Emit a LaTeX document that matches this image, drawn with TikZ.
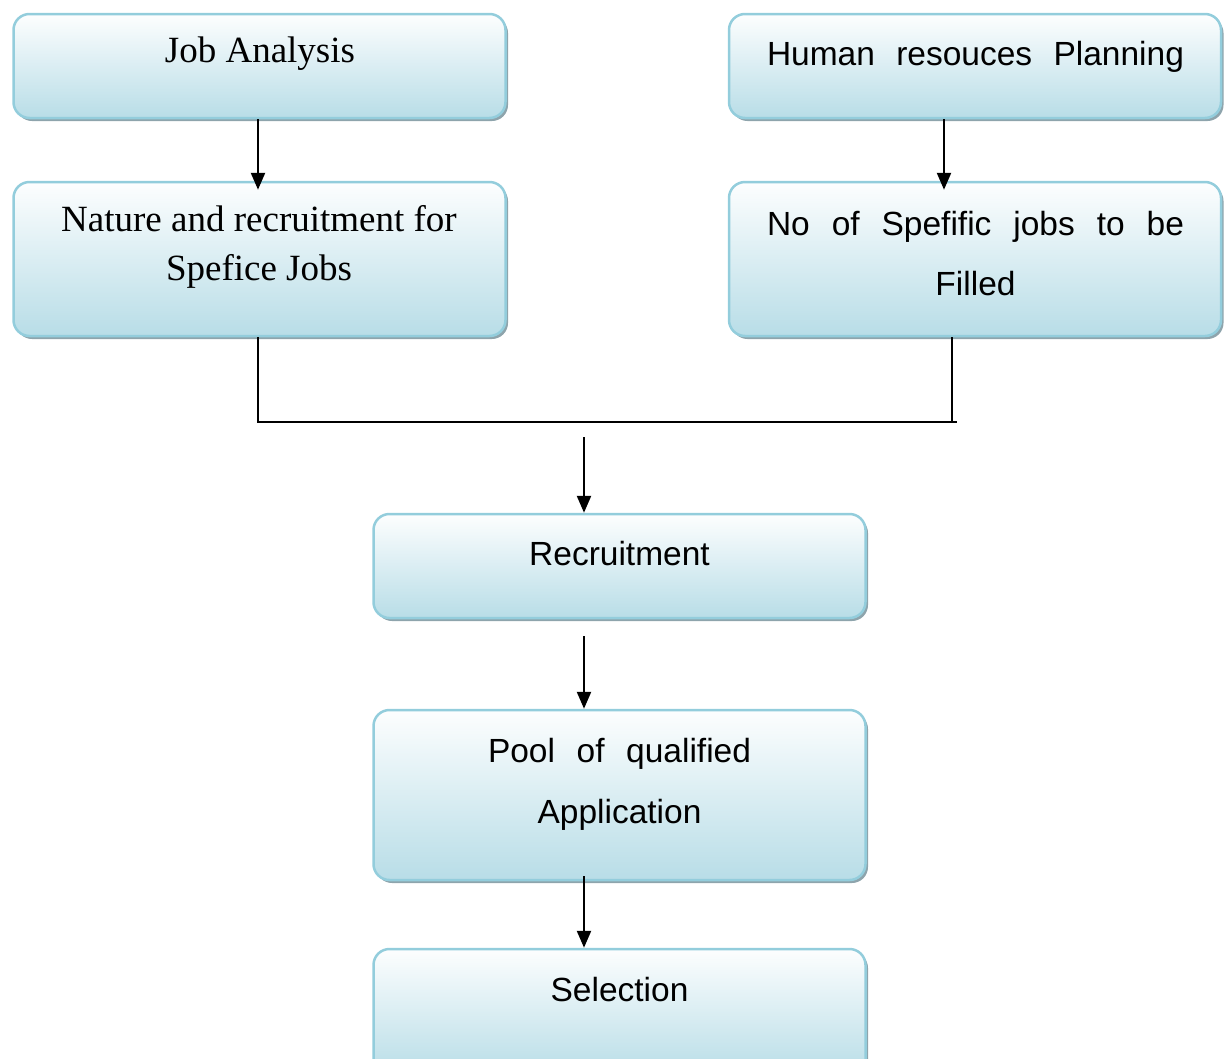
\documentclass[tikz,border=0pt]{standalone}
\usepackage{fontspec}
\usetikzlibrary{arrows.meta,shadows,calc}
\newfontfamily\boxserif{Liberation Serif}
\newfontfamily\boxsans{Liberation Sans}
\definecolor{boxblue}{HTML}{B8DDE7}
\definecolor{boxedge}{HTML}{93CDDC}
\definecolor{shadowgray}{HTML}{8EA4AC}
\tikzset{
  box/.style={draw=boxedge, line width=2.5pt, rounded corners=16pt,
    top color=white!97!boxblue, middle color=boxblue!62!white, bottom color=boxblue,
    drop shadow={shadow xshift=2.5pt, shadow yshift=-3pt, fill=shadowgray, opacity=1},
    minimum width=492pt, inner sep=0pt},
  seriftxt/.style={font=\boxserif\fontsize{37}{44}\selectfont, anchor=base, inner sep=0pt},
  sanstxt/.style={font=\boxsans\fontsize{33.5}{40}\selectfont, anchor=base, inner sep=0pt},
  link/.style={line width=2pt, black},
  arr/.style={line width=2.4pt, black, -{Triangle[width=14pt,length=17pt]}}
}
\begin{document}
\begin{tikzpicture}[x=1pt, y=-1pt]
\useasboundingbox (0,0) rectangle (1224,1058);

% boxes
\node[box, minimum height=104pt] (ja)    at (259.5,66)  {};
\node[box, minimum height=154pt] (nat)   at (259.5,259) {};
\node[box, minimum height=104pt] (hrp)   at (975,66)    {};
\node[box, minimum height=154pt] (nfill) at (975,259)   {};
\node[box, minimum height=104pt] (rec)   at (619.5,566) {};
\node[box, minimum height=170pt] (pool)  at (619.5,795) {};
\node[box, minimum height=126pt] (sel)   at (619.5,1012) {};

% labels
\node[seriftxt] (tja)   at (260,62)   {Job Analysis};
\node[seriftxt] (tnat1) at (259,231.5) {Nature and recruitment for};
\node[seriftxt] (tnat2) at (259,280.5) {Spefice Jobs};
\node[sanstxt]  (thrp)  at (975.5,65) {\hbox to 417pt{Human\hfill resouces\hfill Planning}};
\node[sanstxt]  (tnf1)  at (975.5,235) {\hbox to 417pt{No\hfill of\hfill Spefific\hfill jobs\hfill to\hfill be}};
\node[sanstxt]  (tnf2)  at (975.5,295) {Filled};
\node[sanstxt]  (trec)  at (619.5,565) {Recruitment};
\node[sanstxt]  (tp1)   at (619.5,762) {\hbox to 263pt{Pool\hfill of\hfill qualified}};
\node[sanstxt]  (tp2)   at (619.5,823) {Application};
\node[sanstxt]  (tsel)  at (619.5,1001) {Selection};

% connectors
\coordinate (jn) at (957,422);
\coordinate (mid) at (584,437);
\draw[arr, shorten >=-9pt] ([xshift=-1.5pt]ja.south) -- ([xshift=-1.5pt]nat.north);
\draw[arr, shorten >=-9pt] ([xshift=-31pt]hrp.south) -- ([xshift=-31pt]nfill.north);
\draw[link] ([xshift=-1.5pt]nat.south) |- (jn);
\draw[link] ([xshift=-23pt]nfill.south) -- ([xshift=-23pt]nfill.south |- jn);
\draw[arr] (mid) -- (mid |- rec.north);
\draw[arr] ([xshift=-35.5pt, yshift=-17pt]rec.south) -- ([xshift=-35.5pt]pool.north);
\draw[arr] ([xshift=-35.5pt, yshift=5pt]pool.south) -- ([xshift=-35.5pt]sel.north);
\end{tikzpicture}
\end{document}
